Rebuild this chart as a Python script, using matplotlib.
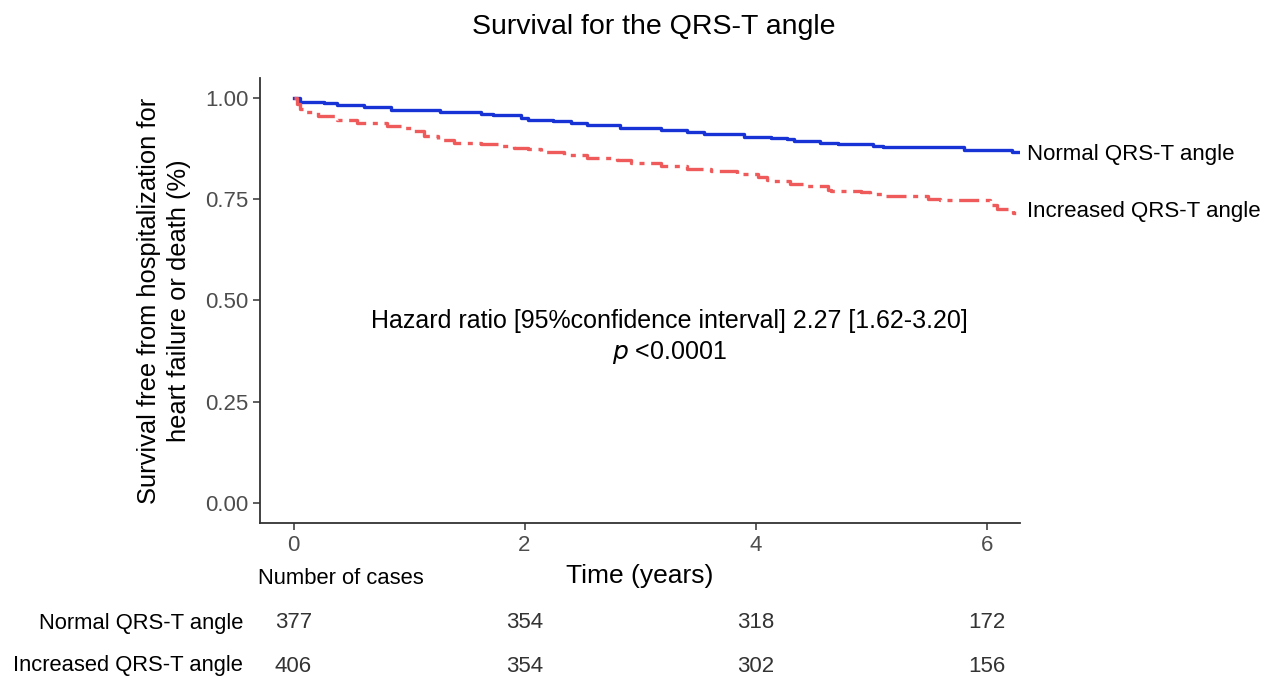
import matplotlib
matplotlib.use("Agg")
from matplotlib import pyplot as plt
from matplotlib import transforms

plt.rcParams['font.family'] = ['Liberation Sans', 'DejaVu Sans']

# Kaplan-Meier steps
normal_t = [0, 0.06, 0.26, 0.38, 0.61, 0.84, 1.04, 1.27, 1.62, 1.73, 1.97, 2.03,
            2.25, 2.4, 2.54, 2.83, 3.18, 3.41, 3.55, 3.9, 4.13, 4.27, 4.33,
            4.56, 4.71, 5.02, 5.1, 5.8, 6.22, 6.29]
normal_s = [1.0, 0.990, 0.987, 0.982, 0.978, 0.972, 0.970, 0.966, 0.962, 0.958,
            0.951, 0.946, 0.943, 0.938, 0.933, 0.927, 0.921, 0.916, 0.911, 0.904,
            0.902, 0.898, 0.894, 0.890, 0.886, 0.883, 0.879, 0.872, 0.867, 0.867]

incr_t = [0, 0.03, 0.06, 0.11, 0.21, 0.38, 0.55, 0.81, 0.93, 1.04, 1.13, 1.25,
          1.39, 1.62, 1.77, 1.91, 2.03, 2.14, 2.34, 2.54, 2.8, 2.92, 3.18, 3.41,
          3.61, 3.84, 4.02, 4.1, 4.16, 4.3, 4.42, 4.63, 4.65, 4.91, 4.99, 5.1,
          5.49, 5.6, 6.03, 6.09, 6.23, 6.29]
incr_s = [1.0, 0.985, 0.974, 0.966, 0.957, 0.947, 0.939, 0.931, 0.927, 0.919,
          0.906, 0.897, 0.890, 0.886, 0.882, 0.876, 0.874, 0.867, 0.859, 0.853,
          0.847, 0.839, 0.833, 0.826, 0.820, 0.812, 0.806, 0.798, 0.796, 0.788,
          0.783, 0.774, 0.771, 0.767, 0.763, 0.759, 0.752, 0.749, 0.735, 0.726,
          0.717, 0.717]

groups = ["Normal QRS-T angle", "Increased QRS-T angle"]
risk_times = [0, 2, 4, 6]
risk_normal = [377, 354, 318, 172]
risk_incr = [406, 354, 302, 156]

fig = plt.figure(figsize=(12.69, 6.77), dpi=100)
ax = fig.add_axes([0.2049, 0.2275, 0.599, 0.6573])

blue = '#1733d6'
red = '#ef5b5b'
ax.plot(normal_t, normal_s, drawstyle='steps-post', color=blue, lw=2.4)
ax.plot(incr_t, incr_s, drawstyle='steps-post', color=red, lw=2.4,
        dashes=(6, 2, 1.5, 2))

ax.set_xlim(-0.29, 6.29)
ax.set_ylim(-0.05, 1.05)
ax.set_xticks([0, 2, 4, 6])
ax.set_yticks([0, 0.25, 0.5, 0.75, 1.0])
ax.set_yticklabels(["0.00", "0.25", "0.50", "0.75", "1.00"])
for s in ['top', 'right']:
    ax.spines[s].set_visible(False)
for s in ['left', 'bottom']:
    ax.spines[s].set_linewidth(1.3)
    ax.spines[s].set_color('#333333')
ax.tick_params(labelsize=16, colors='#333333', labelcolor='#4d4d4d', length=5, width=1.1)

ax.set_xlabel("Time (years)", fontsize=19, labelpad=6)
ax.set_ylabel("Survival free from hospitalization for\nheart failure or death (%)",
              fontsize=18.4, labelpad=10, linespacing=1.3)
fig.text(654 / 1269, 1 - 27 / 677, "Survival for the QRS-T angle", fontsize=20.5,
         ha='center', va='center')

ax.text(6.35, 0.862, groups[0], fontsize=16, va='center', ha='left', clip_on=False)
ax.text(6.35, 0.72, groups[1], fontsize=16, va='center', ha='left', clip_on=False)

ax.text(3.25, 0.45, "Hazard ratio [95%confidence interval] 2.27 [1.62-3.20]",
        fontsize=18, ha='center', va='center')
ax.text(3.25, 0.371, r"$p$ <0.0001", fontsize=18, ha='center', va='center')

# number at risk table
trans = transforms.blended_transform_factory(ax.transData, fig.transFigure)
fig.text(258 / 1269, 1 - 578 / 677, "Number of cases", fontsize=15.8, ha='left', va='center')
for label, counts, yp in [(groups[0], risk_normal, 623), (groups[1], risk_incr, 666)]:
    fig.text(243 / 1269, 1 - yp / 677, label, fontsize=15.8, ha='right', va='center')
    for t, n in zip(risk_times, counts):
        ax.text(t, 1 - yp / 677, str(n), fontsize=16, ha='center', va='center',
                transform=trans, color='#333333')

fig.savefig("out.png", dpi=100)
